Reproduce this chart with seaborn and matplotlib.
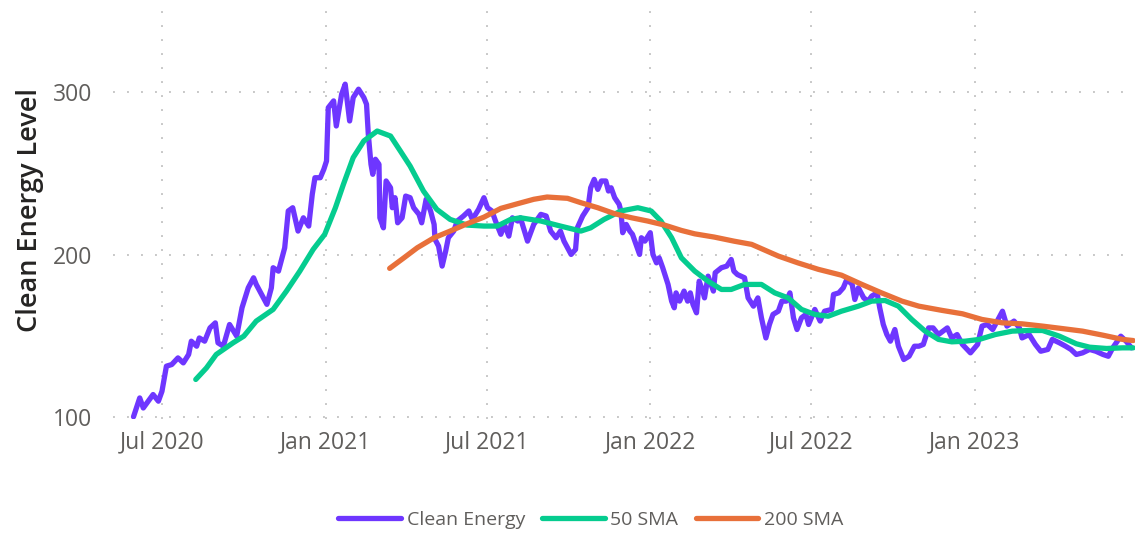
import matplotlib
matplotlib.use("Agg")
import matplotlib.pyplot as plt
import matplotlib.dates as mdates
import pandas as pd
import seaborn as sns

# --- data ---

energy_dates = [
    "2020-05-30", "2020-06-06", "2020-06-10", "2020-06-21", "2020-06-27", "2020-07-01",
    "2020-07-06", "2020-07-12", "2020-07-19", "2020-07-25", "2020-07-31", "2020-08-03",
    "2020-08-09", "2020-08-12", "2020-08-18", "2020-08-24", "2020-08-30", "2020-09-02",
    "2020-09-08", "2020-09-15", "2020-09-23", "2020-09-29", "2020-10-06", "2020-10-12",
    "2020-10-15", "2020-10-21", "2020-10-27", "2020-11-01", "2020-11-03", "2020-11-09",
    "2020-11-13", "2020-11-16", "2020-11-20", "2020-11-25", "2020-12-01", "2020-12-07",
    "2020-12-13", "2020-12-17", "2020-12-20", "2020-12-26", "2020-12-30", "2021-01-02",
    "2021-01-04", "2021-01-10", "2021-01-13", "2021-01-19", "2021-01-23", "2021-01-28",
    "2021-02-01", "2021-02-07", "2021-02-13", "2021-02-16", "2021-02-18", "2021-02-21",
    "2021-02-23", "2021-02-26", "2021-03-02", "2021-03-03", "2021-03-07", "2021-03-10",
    "2021-03-15", "2021-03-17", "2021-03-20", "2021-03-23", "2021-03-28", "2021-04-01",
    "2021-04-06", "2021-04-10", "2021-04-16", "2021-04-19", "2021-04-24", "2021-04-29",
    "2021-05-03", "2021-05-04", "2021-05-08", "2021-05-12", "2021-05-16", "2021-05-19",
    "2021-05-25", "2021-05-29", "2021-06-05", "2021-06-11", "2021-06-15", "2021-06-22",
    "2021-06-28", "2021-07-02", "2021-07-07", "2021-07-11", "2021-07-17", "2021-07-21",
    "2021-07-26", "2021-07-30", "2021-08-05", "2021-08-08", "2021-08-16", "2021-08-23",
    "2021-08-31", "2021-09-06", "2021-09-11", "2021-09-17", "2021-09-22", "2021-09-26",
    "2021-09-30", "2021-10-04", "2021-10-09", "2021-10-11", "2021-10-17", "2021-10-23",
    "2021-10-26", "2021-10-30", "2021-11-03", "2021-11-07", "2021-11-12", "2021-11-15",
    "2021-11-18", "2021-11-22", "2021-11-27", "2021-11-29", "2021-12-01", "2021-12-05",
    "2021-12-09", "2021-12-12", "2021-12-16", "2021-12-20", "2021-12-22", "2021-12-26",
    "2022-01-01", "2022-01-04", "2022-01-08", "2022-01-11", "2022-01-15", "2022-01-21",
    "2022-01-25", "2022-01-28", "2022-01-30", "2022-02-03", "2022-02-08", "2022-02-12",
    "2022-02-15", "2022-02-18", "2022-02-22", "2022-02-25", "2022-03-01", "2022-03-03",
    "2022-03-07", "2022-03-13", "2022-03-15", "2022-03-22", "2022-03-28", "2022-04-02",
    "2022-04-05", "2022-04-09", "2022-04-17", "2022-04-21", "2022-04-27", "2022-05-02",
    "2022-05-06", "2022-05-11", "2022-05-15", "2022-05-19", "2022-05-25", "2022-05-29",
    "2022-06-03", "2022-06-07", "2022-06-11", "2022-06-15", "2022-06-20", "2022-06-25",
    "2022-06-28", "2022-07-05", "2022-07-11", "2022-07-16", "2022-07-24", "2022-07-26",
    "2022-08-01", "2022-08-06", "2022-08-10", "2022-08-16", "2022-08-19", "2022-08-23",
    "2022-08-29", "2022-09-03", "2022-09-07", "2022-09-13", "2022-09-16", "2022-09-20",
    "2022-09-24", "2022-09-28", "2022-10-03", "2022-10-07", "2022-10-13", "2022-10-19",
    "2022-10-25", "2022-10-30", "2022-11-04", "2022-11-10", "2022-11-15", "2022-11-21",
    "2022-12-01", "2022-12-06", "2022-12-12", "2022-12-18", "2022-12-27", "2023-01-04",
    "2023-01-09", "2023-01-15", "2023-01-21", "2023-01-26", "2023-02-01", "2023-02-06",
    "2023-02-14", "2023-02-20", "2023-02-23", "2023-03-03", "2023-03-10", "2023-03-16",
    "2023-03-24", "2023-03-29", "2023-04-06", "2023-04-13", "2023-04-19", "2023-04-25",
    "2023-05-02", "2023-05-10", "2023-05-17", "2023-05-25", "2023-05-31", "2023-06-05",
    "2023-06-14", "2023-06-20", "2023-06-26",
]
energy_values = [
    100.0, 111.6, 105.4, 113.7, 109.6, 115.7,
    131.2, 132.2, 136.3, 133.2, 138.4, 146.6,
    143.5, 148.6, 146.6, 154.8, 157.9, 145.6,
    143.5, 156.9, 149.7, 167.2, 179.5, 185.7,
    181.6, 175.4, 169.3, 179.5, 191.9, 189.8,
    198.0, 204.2, 226.9, 228.9, 214.5, 222.7,
    217.6, 237.2, 247.4, 247.4, 252.6, 257.7,
    290.6, 294.8, 279.3, 298.9, 305.1, 282.4,
    296.8, 302.0, 296.8, 292.7, 274.2, 255.7,
    249.5, 258.8, 255.7, 222.7, 216.5, 245.4,
    241.2, 228.9, 235.1, 219.6, 222.7, 236.1,
    235.1, 228.9, 224.8, 219.6, 234.1, 226.9,
    218.6, 209.4, 205.2, 192.9, 202.2, 210.4,
    214.5, 220.7, 223.8, 226.9, 221.7, 227.9,
    235.1, 228.9, 226.9, 220.7, 212.5, 218.6,
    211.4, 222.7, 220.7, 222.7, 208.3, 218.6,
    224.8, 223.8, 214.5, 210.4, 214.5, 208.3,
    204.2, 200.1, 203.2, 216.5, 223.8, 228.9,
    241.2, 246.4, 240.2, 245.4, 245.4, 239.2,
    241.2, 235.1, 231.0, 226.9, 213.5, 218.6,
    214.5, 212.5, 206.3, 200.1, 210.4, 208.3,
    213.5, 200.1, 194.9, 198.0, 191.9, 181.6,
    171.3, 167.2, 176.4, 171.3, 177.5, 171.3,
    176.4, 169.3, 164.1, 183.6, 177.5, 173.3,
    186.7, 177.5, 188.8, 191.9, 192.9, 197.0,
    189.8, 187.7, 185.7, 173.3, 168.2, 173.3,
    161.0, 148.6, 156.9, 163.1, 165.1, 171.3,
    171.3, 176.4, 161.0, 153.8, 161.0, 163.1,
    156.9, 166.2, 159.0, 165.1, 166.2, 175.4,
    176.4, 179.5, 184.7, 181.6, 172.3, 179.5,
    173.3, 171.3, 174.4, 176.4, 167.2, 156.9,
    150.7, 146.6, 153.8, 143.5, 135.3, 137.3,
    143.5, 143.5, 144.6, 154.8, 154.8, 150.7,
    154.8, 148.6, 150.7, 144.6, 139.4, 144.6,
    155.9, 156.9, 153.8, 159.0, 165.1, 155.9,
    159.0, 154.8, 148.6, 150.7, 144.6, 140.4,
    141.5, 147.7, 145.6, 143.5, 141.5, 138.4,
    139.4, 141.5, 140.4, 138.4, 137.3, 142.5,
    149.7, 146.6, 142.5,
]

sma50_dates = [
    "2020-08-08", "2020-08-20", "2020-08-31", "2020-09-19", "2020-10-01", "2020-10-15",
    "2020-11-03", "2020-11-18", "2020-12-03", "2020-12-18", "2020-12-31", "2021-01-12",
    "2021-01-21", "2021-02-01", "2021-02-13", "2021-02-28", "2021-03-15", "2021-03-26",
    "2021-04-06", "2021-04-21", "2021-05-06", "2021-05-21", "2021-06-09", "2021-06-28",
    "2021-07-13", "2021-07-28", "2021-08-08", "2021-08-31", "2021-09-22", "2021-10-15",
    "2021-10-26", "2021-11-10", "2021-11-29", "2021-12-18", "2022-01-02", "2022-01-13",
    "2022-01-25", "2022-02-05", "2022-02-20", "2022-03-07", "2022-03-22", "2022-04-02",
    "2022-04-17", "2022-05-06", "2022-05-21", "2022-06-05", "2022-06-20", "2022-07-05",
    "2022-07-20", "2022-08-04", "2022-08-23", "2022-09-07", "2022-09-22", "2022-10-07",
    "2022-10-22", "2022-11-06", "2022-11-21", "2022-12-06", "2022-12-21", "2023-01-06",
    "2023-01-24", "2023-02-12", "2023-03-03", "2023-03-18", "2023-04-06", "2023-04-25",
    "2023-05-10", "2023-05-29", "2023-06-16", "2023-06-28",
]
sma50_values = [
    123.0, 130.1, 138.4, 145.6, 149.7, 159.0,
    166.2, 177.5, 189.8, 203.2, 212.5, 228.9,
    243.3, 259.8, 270.1, 276.2, 273.1, 263.9,
    254.6, 239.2, 227.9, 221.7, 218.2, 217.6,
    217.6, 221.7, 222.7, 220.7, 217.6, 214.5,
    216.5, 221.7, 226.9, 228.9, 226.9, 220.7,
    210.4, 198.0, 189.8, 183.6, 178.5, 178.5,
    181.6, 181.6, 176.4, 173.3, 166.2, 163.1,
    162.0, 165.1, 168.2, 171.3, 171.7, 168.2,
    160.0, 152.8, 147.7, 146.2, 146.6, 147.7,
    150.7, 152.8, 153.2, 153.2, 149.7, 145.0,
    142.9, 142.1, 142.5, 142.5,
]

sma200_dates = [
    "2021-03-14", "2021-03-30", "2021-04-14", "2021-05-03", "2021-05-21", "2021-06-09",
    "2021-06-28", "2021-07-17", "2021-08-05", "2021-08-23", "2021-09-07", "2021-09-30",
    "2021-10-15", "2021-11-03", "2021-11-22", "2021-12-11", "2021-12-29", "2022-01-17",
    "2022-02-05", "2022-02-20", "2022-03-14", "2022-04-05", "2022-04-25", "2022-05-25",
    "2022-06-16", "2022-07-09", "2022-08-04", "2022-08-27", "2022-09-18", "2022-10-11",
    "2022-10-30", "2022-11-25", "2022-12-18", "2023-01-09", "2023-02-01", "2023-02-23",
    "2023-03-18", "2023-04-09", "2023-05-02", "2023-05-25", "2023-06-16", "2023-06-28",
]
sma200_values = [
    191.5, 198.0, 204.2, 210.4, 214.5, 219.0,
    223.1, 228.5, 231.4, 234.1, 235.5, 234.7,
    232.0, 228.9, 225.2, 222.7, 220.7, 218.2,
    214.9, 212.8, 210.8, 208.3, 206.3, 199.1,
    194.9, 190.9, 187.3, 181.6, 176.4, 171.3,
    168.2, 165.6, 163.5, 160.0, 157.9, 157.3,
    155.9, 154.4, 152.8, 150.3, 147.7, 147.0,
]

series_names = ["Clean Energy", "50 SMA", "200 SMA"]
series_colors = ["#6E36FF", "#05CC8F", "#E8703A"]
y_ticks = [100, 200, 300]

# --- build one long table for seaborn ---
frames = []
for name, dates, values in zip(series_names,
                               [energy_dates, sma50_dates, sma200_dates],
                               [energy_values, sma50_values, sma200_values]):
    frames.append(pd.DataFrame({"date": pd.to_datetime(dates), "value": values, "series": name}))
df = pd.concat(frames, ignore_index=True)

sns.set_theme(style="white")
plt.rcParams["font.family"] = ["Open Sans", "DejaVu Sans"]

fig = plt.figure(figsize=(11.43, 5.34), dpi=100)
ax = fig.add_axes([0.0989, 0.215, 0.8941, 0.785])

sns.lineplot(data=df, x="date", y="value", hue="series", hue_order=series_names,
             palette=series_colors, linewidth=3.8, ax=ax, legend=False,
             estimator=None, sort=True)
for line in ax.get_lines():
    line.set_solid_capstyle("round")
    line.set_solid_joinstyle("round")

ax.set_ylim(98.5, 357)
ax.set_xlim(pd.Timestamp("2020-05-07"), pd.Timestamp("2023-06-30"))
ax.set_yticks(y_ticks)
ax.xaxis.set_major_locator(mdates.MonthLocator(bymonth=[1, 7]))
ax.xaxis.set_major_formatter(mdates.DateFormatter("%b %Y"))

ax.grid(True, color="#C8C8C8", linestyle=(0, (1, 6.2)), linewidth=1.4)
for s in ax.spines.values():
    s.set_visible(False)
ax.tick_params(axis="both", length=0, labelsize=16.5, labelcolor="#605E5C")
ax.tick_params(axis="y", pad=15)
ax.tick_params(axis="x", pad=8)

ax.set_xlabel("")
ax.set_ylabel("Clean Energy Level", fontsize=19.5, color="#252423", fontweight="semibold")
ax.yaxis.set_label_coords(-0.068, 0.5)

handles = [plt.Line2D([], [], color=c, linewidth=3.8) for c in series_colors]
fig.legend(handles, series_names, loc="center", bbox_to_anchor=(0.517, 0.026), ncol=3,
           frameon=False, fontsize=14, labelcolor="#605E5C", handlelength=3.2,
           handletextpad=0.3, columnspacing=0.9)

fig.savefig("out.png", dpi=100)
